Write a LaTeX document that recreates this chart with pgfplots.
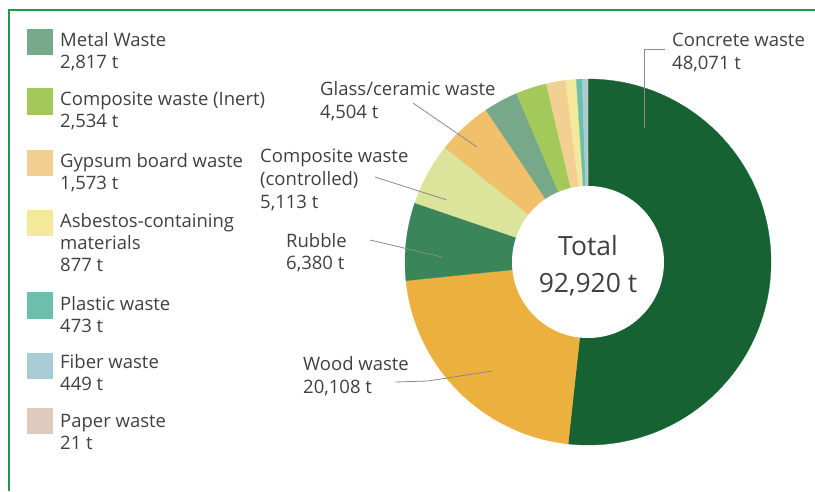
\documentclass[border=0pt]{standalone}
\usepackage{pgfplots}
\pgfplotsset{compat=1.18}
\usepackage{pgfplotstable}
\usepackage{fontspec}
\setmainfont{Open Sans}
\definecolor{cConcrete}{HTML}{176233}
\definecolor{cWood}{HTML}{ECB03E}
\definecolor{cRubble}{HTML}{3B855A}
\definecolor{cCompCtrl}{HTML}{DCE39A}
\definecolor{cGlass}{HTML}{F0C06A}
\definecolor{cMetal}{HTML}{78A88A}
\definecolor{cCompInert}{HTML}{A3C95A}
\definecolor{cGypsum}{HTML}{F3CF92}
\definecolor{cAsbestos}{HTML}{F4E89A}
\definecolor{cPlastic}{HTML}{6CBFAA}
\definecolor{cFiber}{HTML}{A8CCD4}
\definecolor{cPaper}{HTML}{E0C9BD}
\definecolor{txt}{HTML}{404040}
\definecolor{frame}{HTML}{1F9A4A}
\definecolor{leader}{HTML}{8A8A8A}

\pgfplotstableread[col sep=comma]{
name,value,color
Concrete waste,48071,cConcrete
Wood waste,20108,cWood
Rubble,6380,cRubble
Composite waste (controlled),5113,cCompCtrl
Glass/ceramic waste,4504,cGlass
Metal Waste,2817,cMetal
Composite waste (inert),2534,cCompInert
Gypsum board waste,1573,cGypsum
Asbestos-containing materials,877,cAsbestos
Plastic waste,473,cPlastic
Fiber waste,449,cFiber
Paper waste,21,cPaper
}\wastetable

\begin{document}
\begin{tikzpicture}
\begin{axis}[x=1pt,y=1pt,xmin=0,xmax=815,ymin=0,ymax=491,y dir=reverse,
  scale only axis,hide axis,clip=false,anchor=south west,at={(0,0)}]
\def\total{92920}
\def\startang{90}
\pgfplotstablegetrowsof{\wastetable}
\pgfmathtruncatemacro\nrows{\pgfplotsretval-1}
\pgfplotsforeachungrouped \i in {0,...,\nrows}{%
  \pgfplotstablegetelem{\i}{value}\of\wastetable \let\val\pgfplotsretval
  \pgfplotstablegetelem{\i}{color}\of\wastetable \let\col\pgfplotsretval
  \edef\endang{\fpeval{round(\startang - 360*\val/\total,4)}}%
  \edef\temp{\noexpand\filldraw[fill=\col,draw=\col,line width=0.3pt] (axis cs:588,262) -- ++(\startang:183pt) arc[start angle=\startang, end angle=\endang, radius=183pt] -- cycle;}%
  \temp
  \let\startang\endang
}
\fill[white] (axis cs:588,262) circle[radius=76pt];

% frame
\draw[frame,line width=2pt] (axis cs:9,491) -- (axis cs:9,10) -- (axis cs:815,10);

% center text
\node[txt,anchor=base,font=\fontsize{26.5}{30}\selectfont] at (axis cs:588,255) {Total};
\node[txt,anchor=base,font=\fontsize{26.5}{30}\selectfont] at (axis cs:588,292) {92,920 t};

% leader lines
\begin{scope}[leader,line width=0.8pt]
\draw (axis cs:665,49) -- (axis cs:644,49) -- (axis cs:644,128);
\draw (axis cs:413,103) -- (axis cs:477,147);
\draw (axis cs:375,177) -- (axis cs:447,200);
\draw (axis cs:370,240) -- (axis cs:442,257);
\draw (axis cs:395,382) -- (axis cs:428,381) -- (axis cs:492,371);
\end{scope}

% donut labels
\begin{scope}[every node/.style={txt,anchor=base west,inner sep=0pt,font=\fontsize{18.5}{22}\selectfont}]
\node at (axis cs:672,46) {Concrete waste};
\node at (axis cs:672,69) {48,071 t};
\node at (axis cs:320,95) {Glass/ceramic waste};
\node at (axis cs:320,118) {4,504 t};
\node at (axis cs:260,162) {Composite waste};
\node at (axis cs:260,185) {(controlled)};
\node at (axis cs:260,208) {5,113 t};
\node at (axis cs:286,247) {Rubble};
\node at (axis cs:286,269) {6,380 t};
\node at (axis cs:303,370) {Wood waste};
\node at (axis cs:303,393) {20,108 t};
% legend
\node at (axis cs:60,46) {Metal Waste};
\node at (axis cs:60,68) {2,817 t};
\node at (axis cs:60,105) {Composite waste (Inert)};
\node at (axis cs:60,127) {2,534 t};
\node at (axis cs:60,167) {Gypsum board waste};
\node at (axis cs:60,189) {1,573 t};
\node at (axis cs:60,227) {Asbestos-containing};
\node at (axis cs:60,249) {materials};
\node at (axis cs:60,271) {877 t};
\node at (axis cs:60,310) {Plastic waste};
\node at (axis cs:60,332) {473 t};
\node at (axis cs:60,368) {Fiber waste};
\node at (axis cs:60,390) {449 t};
\node at (axis cs:60,427) {Paper waste};
\node at (axis cs:60,449) {21 t};
\end{scope}
\fill[cMetal] (axis cs:27,29) rectangle (axis cs:53,55);
\fill[cCompInert] (axis cs:27,88) rectangle (axis cs:53,115);
\fill[cGypsum] (axis cs:27,150) rectangle (axis cs:53,176);
\fill[cAsbestos] (axis cs:27,210) rectangle (axis cs:53,236);
\fill[cPlastic] (axis cs:27,292) rectangle (axis cs:53,319);
\fill[cFiber] (axis cs:27,353) rectangle (axis cs:53,379);
\fill[cPaper] (axis cs:27,408) rectangle (axis cs:53,434);
\end{axis}
\pgfresetboundingbox
\useasboundingbox (0,0) rectangle (815pt,491pt);
\end{tikzpicture}
\end{document}
